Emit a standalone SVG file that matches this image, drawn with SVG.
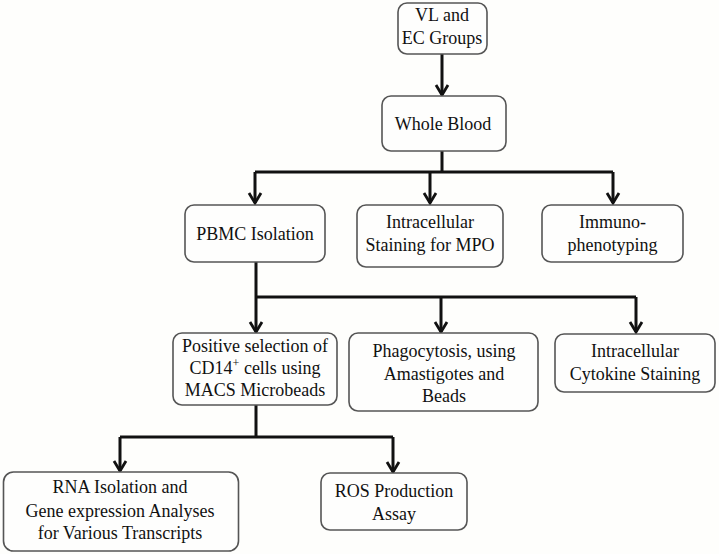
<svg xmlns="http://www.w3.org/2000/svg" width="719" height="554" viewBox="0 0 719 554" font-family="Liberation Serif, serif">
<style>
.box{fill:#fefefd;stroke:#555;stroke-width:1.6}
.t{font-size:18px;fill:#111;text-anchor:middle}
.c{fill:none;stroke:#111;stroke-width:3}
.h{fill:none;stroke:#111;stroke-width:2.8}
</style>
<rect width="719" height="554" fill="#fefefc"/>
<g id="connectors">
<line class="c" x1="442" y1="54" x2="442" y2="95"/>
<path class="c" d="M442,151 V172 M255,172 H613"/>
<path class="c" d="M255,172 V203 M430,172 V203 M613,172 V203"/>
<path class="c" d="M256,262 V297 M256,297 H636"/>
<path class="c" d="M256,297 V332 M441,297 V332 M636,297 V332"/>
<path class="c" d="M256,405 V437 M120,437 H393"/>
<path class="c" d="M120,437 V471 M393,437 V472"/>
<path class="h" d="M436,85 L442,95 L448,85"/>
<path class="h" d="M249,193 L255,203 L261,193"/>
<path class="h" d="M424,193 L430,203 L436,193"/>
<path class="h" d="M607,193 L613,203 L619,193"/>
<path class="h" d="M250,322 L256,332 L262,322"/>
<path class="h" d="M435,322 L441,332 L447,322"/>
<path class="h" d="M630,322 L636,332 L642,322"/>
<path class="h" d="M114,461 L120,471 L126,461"/>
<path class="h" d="M387,462 L393,472 L399,462"/>
</g>
<g id="vl">
<rect class="box" x="398" y="3" width="89" height="51" rx="9"/>
<text class="t" x="442" y="21">VL and</text>
<text class="t" x="442" y="44">EC Groups</text>
</g>
<g id="whole-blood">
<rect class="box" x="382" y="96" width="124" height="55" rx="9"/>
<text class="t" x="443" y="130">Whole Blood</text>
</g>
<g id="pbmc">
<rect class="box" x="185" y="205" width="140" height="57" rx="9"/>
<text class="t" x="255" y="240">PBMC Isolation</text>
</g>
<g id="mpo">
<rect class="box" x="357" y="205" width="146" height="62" rx="9"/>
<text class="t" x="430" y="228">Intracellular</text>
<text class="t" x="430" y="251">Staining for MPO</text>
</g>
<g id="immuno">
<rect class="box" x="542" y="205" width="141" height="57" rx="9"/>
<text class="t" x="612.5" y="228">Immuno-</text>
<text class="t" x="612.5" y="251">phenotyping</text>
</g>
<g id="cd14">
<rect class="box" x="173" y="333" width="164" height="72" rx="9"/>
<text class="t" x="255" y="352">Positive selection of</text>
<text class="t" x="255" y="374">CD14<tspan font-size="12" dy="-7">+</tspan><tspan dy="7"> cells using</tspan></text>
<text class="t" x="255" y="396">MACS Microbeads</text>
</g>
<g id="phago">
<rect class="box" x="349" y="333" width="189" height="78" rx="9"/>
<text class="t" x="444" y="357">Phagocytosis, using</text>
<text class="t" x="444" y="380">Amastigotes and</text>
<text class="t" x="444" y="402">Beads</text>
</g>
<g id="cytokine">
<rect class="box" x="555" y="334" width="160" height="58" rx="9"/>
<text class="t" x="635" y="357">Intracellular</text>
<text class="t" x="635" y="380">Cytokine Staining</text>
</g>
<g id="rna">
<rect class="box" x="3.5" y="472" width="235" height="79" rx="10"/>
<text class="t" x="120" y="493">RNA Isolation and</text>
<text class="t" x="120" y="517">Gene expression Analyses</text>
<text class="t" x="120" y="539">for Various Transcripts</text>
</g>
<g id="ros">
<rect class="box" x="321" y="473" width="146" height="57" rx="9"/>
<text class="t" x="394" y="497">ROS Production</text>
<text class="t" x="394" y="520">Assay</text>
</g>
</svg>
